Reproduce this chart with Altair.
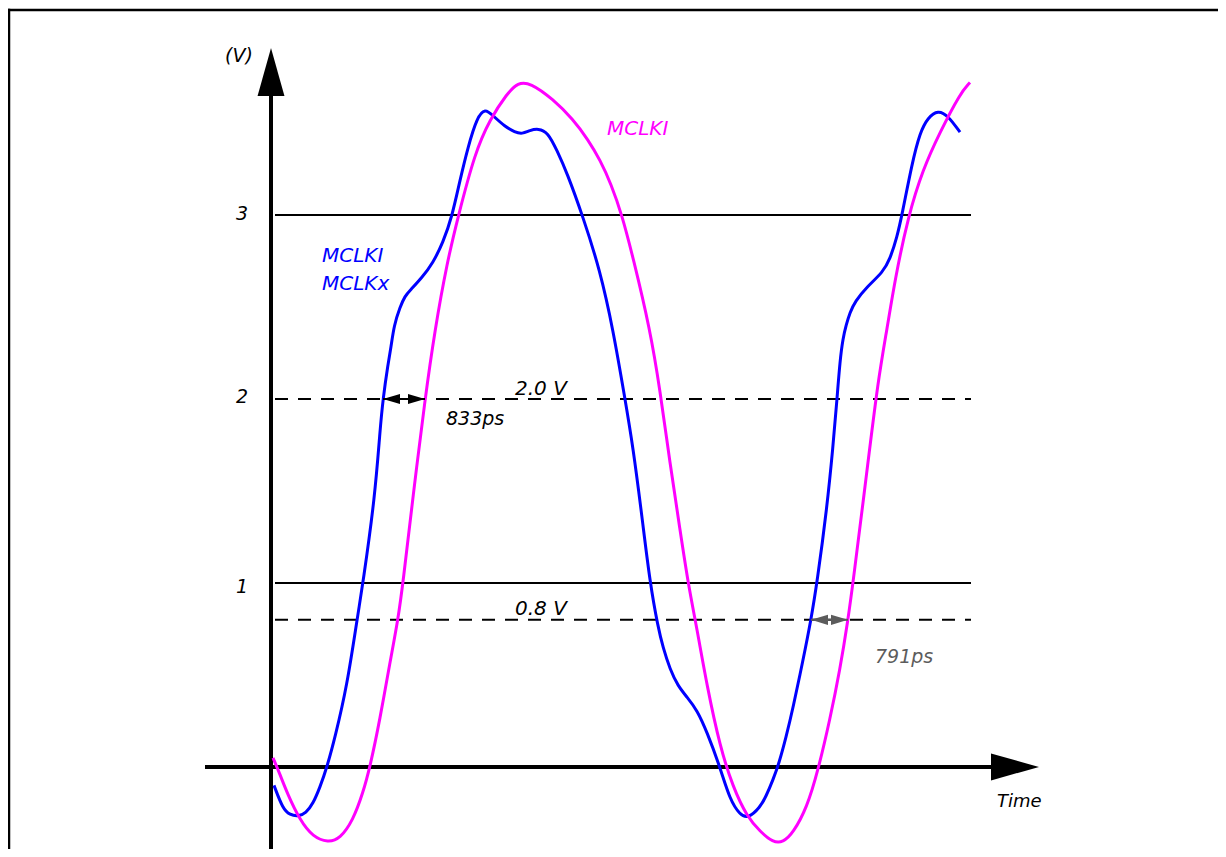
import altair as alt
import pandas as pd

# ---- waveform samples (time in ns, voltage in V) ----
blue_t = [0.06, 0.24, 0.38, 0.54, 0.70, 0.84, 0.98, 1.12, 1.28, 1.52, 1.72, 1.84, 2.08, 2.18, 2.24, 2.34,
          2.40, 2.46, 2.58, 2.68, 2.78, 3.02, 3.24, 3.44, 3.62, 3.78, 3.94, 4.12, 4.28, 4.44, 4.68, 4.88,
          5.02, 5.18, 5.34, 5.54, 5.72, 5.92, 6.24, 6.58, 6.84, 7.08, 7.24, 7.42, 7.58, 7.74, 7.84, 7.98,
          8.14, 8.32, 8.52, 8.72, 8.98, 9.18, 9.38, 9.54, 9.78, 9.90, 10.04, 10.16, 10.30, 10.44, 10.64,
          10.80, 10.92, 11.12, 11.24, 11.32, 11.38, 11.44, 11.50, 11.58, 11.68, 11.92, 12.24, 12.38, 12.52,
          12.62, 12.82, 12.98, 13.14, 13.34, 13.54, 13.78]
blue_v = [-0.10, -0.23, -0.26, -0.27, -0.25, -0.20, -0.11, 0.00, 0.16, 0.44, 0.80, 1.00, 1.47, 1.83, 2.00, 2.19,
          2.28, 2.40, 2.50, 2.56, 2.59, 2.66, 2.74, 2.85, 2.99, 3.19, 3.37, 3.53, 3.58, 3.54, 3.48, 3.45,
          3.44, 3.46, 3.47, 3.45, 3.35, 3.23, 2.99, 2.70, 2.38, 2.00, 1.74, 1.36, 1.00, 0.76, 0.65, 0.53,
          0.44, 0.38, 0.31, 0.19, 0.00, -0.18, -0.26, -0.28, -0.22, -0.16, -0.07, 0.02, 0.16, 0.32, 0.58,
          0.80, 1.00, 1.41, 1.74, 2.00, 2.21, 2.33, 2.40, 2.47, 2.53, 2.61, 2.69, 2.76, 2.88,
          3.00, 3.28, 3.45, 3.53, 3.57, 3.54, 3.45]

mag_t = [0.04, 0.18, 0.32, 0.58, 0.84, 1.14, 1.38, 1.64, 1.84, 1.98, 2.18, 2.38, 2.54, 2.64, 2.84, 3.08,
         3.28, 3.52, 3.74, 4.08, 4.38, 4.72, 4.94, 5.18, 5.64, 6.04, 6.34, 6.58, 6.80, 7.02, 7.24, 7.58,
         7.78, 7.98, 8.18, 8.34, 8.52, 8.72, 8.98, 9.24, 9.52, 9.78, 10.04, 10.24, 10.44, 10.72, 10.94,
         11.18, 11.38, 11.54, 11.64, 11.92, 12.14, 12.32, 12.48, 12.74, 13.04, 13.38, 13.78, 13.98]
mag_v = [0.05, -0.04, -0.14, -0.29, -0.38, -0.41, -0.39, -0.29, -0.14, 0.00, 0.26, 0.57, 0.80, 1.00, 1.47, 2.00,
         2.38, 2.74, 2.99, 3.34, 3.52, 3.66, 3.72, 3.72, 3.63, 3.52, 3.41, 3.30, 3.17, 3.00, 2.77, 2.38,
         2.05, 1.65, 1.29, 1.00, 0.75, 0.44, 0.11, -0.11, -0.27, -0.35, -0.41, -0.41, -0.36, -0.22, -0.02,
         0.26, 0.53, 0.80, 1.00, 1.61, 2.10, 2.38, 2.65, 2.99, 3.25, 3.45, 3.66, 3.72]

# ---- reference levels ----
solid_levels = [3.0, 1.0]
dashed_levels = [2.0, 0.8]
level_start, level_end = 0.08, 14.0

# ---- tick labels ----
tick_text = ["3", "2", "1"]
tick_t = [-0.58, -0.58, -0.58]
tick_v = [2.973, 1.978, 0.946]

# ---- skew measurements (crossing times) ----
skew_from = [2.24, 10.80]
skew_to = [3.08, 11.54]
skew_level = [2.0, 0.8]
skew_color = ["#000000", "#5c5c5c"]

# ---- annotations ----
ann_text = ["(V)", "MCLKI", "MCLKx", "MCLKI", "2.0 V", "833ps", "0.8 V", "791ps", "Time"]
ann_t = [-0.92, 1.02, 1.02, 6.72, 4.88, 3.50, 4.88, 12.08, 14.52]
ann_v = [3.83, 2.745, 2.592, 3.435, 2.022, 1.859, 0.826, 0.565, -0.217]
ann_color = ["#000000", "#0000ff", "#0000ff", "#ff00ff", "#000000", "#000000", "#000000", "#5c5c5c", "#000000"]
ann_size = [19, 20, 20, 20, 20, 19, 20, 19, 18]

# ---- axes geometry (data units) ----
X_DOM = [-5.26, 18.94]
Y_DOM = [-0.4457, 4.125]
W, H = 1210, 841
yaxis_top = 3.66
xaxis_from, xaxis_to = -1.32, 14.4
yarrow_tip = 3.908
xarrow_tip = 15.36
frame_t = -5.24
frame_v = 4.114

xs = alt.Scale(domain=X_DOM, nice=False, zero=False)
ys = alt.Scale(domain=Y_DOM, nice=False, zero=False)


def X(f):
    return alt.X(f, type="quantitative", scale=xs, axis=None)


def Y(f):
    return alt.Y(f, type="quantitative", scale=ys, axis=None)


# frame (top + left)
frame_top = alt.Chart(pd.DataFrame({"t0": [frame_t], "t1": [X_DOM[1]], "v": [frame_v]})).mark_rule(
    color="black", strokeWidth=2.5, strokeCap="square").encode(x=X("t0"), x2="t1", y=Y("v"))
frame_left = alt.Chart(pd.DataFrame({"t": [frame_t], "v0": [Y_DOM[0]], "v1": [frame_v]})).mark_rule(
    color="black", strokeWidth=2.5, strokeCap="square").encode(x=X("t"), y=Y("v0"), y2="v1")

solid = alt.Chart(pd.DataFrame({"v": solid_levels, "t0": level_start, "t1": level_end})).mark_rule(
    color="black", strokeWidth=2).encode(x=X("t0"), x2="t1", y=Y("v"))
dashed = alt.Chart(pd.DataFrame({"v": dashed_levels, "t0": level_start, "t1": level_end})).mark_rule(
    color="black", strokeWidth=2, strokeDash=[13, 10]).encode(x=X("t0"), x2="t1", y=Y("v"))

yaxis = alt.Chart(pd.DataFrame({"t": [0.0], "v0": [Y_DOM[0]], "v1": [yaxis_top]})).mark_rule(
    color="black", strokeWidth=4).encode(x=X("t"), y=Y("v0"), y2="v1")
xaxis = alt.Chart(pd.DataFrame({"v": [0.0], "t0": [xaxis_from], "t1": [xaxis_to]})).mark_rule(
    color="black", strokeWidth=4).encode(x=X("t0"), x2="t1", y=Y("v"))

yarrow = alt.Chart(pd.DataFrame({"t": [0.0], "v": [yarrow_tip]})).mark_point(
    shape="M0,0L-0.56,2L0.56,2Z", size=2304, filled=True, color="black", opacity=1, strokeWidth=0
).encode(x=X("t"), y=Y("v"))
xarrow = alt.Chart(pd.DataFrame({"t": [xarrow_tip], "v": [0.0]})).mark_point(
    shape="M0,0L-2,-0.56L-2,0.56Z", size=2304, filled=True, color="black", opacity=1, strokeWidth=0
).encode(x=X("t"), y=Y("v"))

blue = alt.Chart(pd.DataFrame({"t": blue_t, "v": blue_v})).mark_line(
    color="#0000ff", strokeWidth=3, interpolate="basis").encode(x=X("t"), y=Y("v"))
magenta = alt.Chart(pd.DataFrame({"t": mag_t, "v": mag_v})).mark_line(
    color="#ff00ff", strokeWidth=3, interpolate="basis").encode(x=X("t"), y=Y("v"))

skew_df = pd.DataFrame({"t0": skew_from, "t1": skew_to, "v": skew_level, "c": skew_color})
skew_line = alt.Chart(skew_df).mark_rule(strokeWidth=2).encode(
    x=X("t0"), x2="t1", y=Y("v"), color=alt.Color("c:N", scale=None))
skew_left = alt.Chart(skew_df).mark_point(
    shape="M0,0L2,-0.6L2,0.6Z", size=289, filled=True, opacity=1, strokeWidth=0
).encode(x=X("t0"), y=Y("v"), color=alt.Color("c:N", scale=None))
skew_right = alt.Chart(skew_df).mark_point(
    shape="M0,0L-2,-0.6L-2,0.6Z", size=289, filled=True, opacity=1, strokeWidth=0
).encode(x=X("t1"), y=Y("v"), color=alt.Color("c:N", scale=None))

ticks = alt.Chart(pd.DataFrame({"t": tick_t, "v": tick_v, "s": tick_text})).mark_text(
    font="DejaVu Sans", fontStyle="italic", fontSize=19, align="center", baseline="alphabetic", color="black"
).encode(x=X("t"), y=Y("v"), text="s:N")

ann = alt.Chart(pd.DataFrame({"t": ann_t, "v": ann_v, "s": ann_text, "c": ann_color, "z": ann_size})).mark_text(
    font="DejaVu Sans", fontStyle="italic", align="left", baseline="alphabetic"
).encode(x=X("t"), y=Y("v"), text="s:N", color=alt.Color("c:N", scale=None),
         size=alt.Size("z:Q", scale=None))

chart = alt.layer(
    frame_top, frame_left, solid, dashed, yaxis, xaxis, yarrow, xarrow,
    blue, magenta, skew_line, skew_left, skew_right, ticks, ann
).properties(
    width=W, height=H, padding=0, background="white",
    autosize=alt.AutoSizeParams(type="none")
).configure_view(stroke=None)

chart.save("out.html", embed_options={"renderer": "svg", "actions": False})
